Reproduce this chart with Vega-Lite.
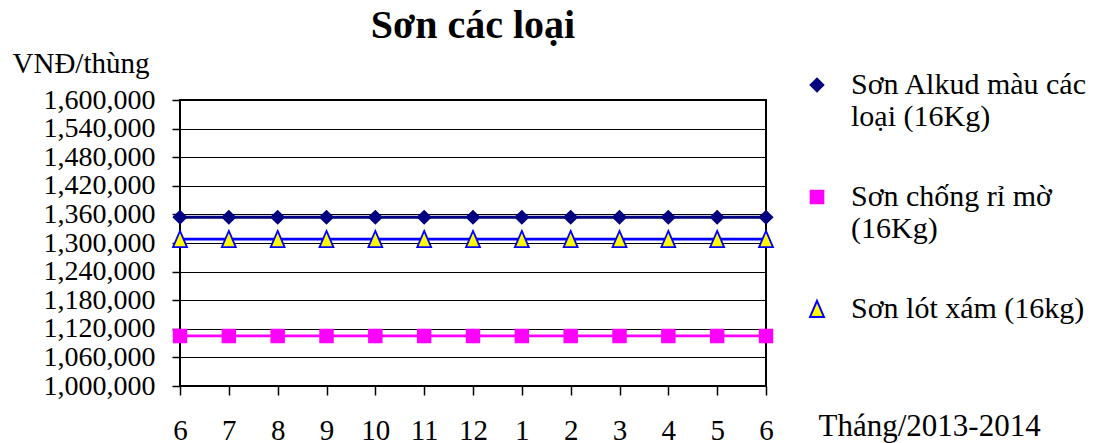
{
  "$schema": "https://vega.github.io/schema/vega-lite/v6.json",
  "width": 586,
  "height": 286,
  "autosize": "none",
  "padding": {"left": 180, "top": 100, "right": 349, "bottom": 57},
  "background": "white",
  "title": {"text": "Sơn các loại", "font": "Liberation Serif", "fontSize": 40, "fontWeight": "bold", "color": "black", "anchor": "middle", "frame": "group", "baseline": "alphabetic", "offset": -29},
  "config": {"view": {"stroke": "black", "strokeWidth": 2}, "font": "Liberation Serif",
    "legend": {"orient": "none", "legendX": 622, "legendY": -30, "padding": 0, "titleFontSize": 0, "labelFont": "Liberation Serif", "labelFontSize": 30, "labelColor": "black", "labelLimit": 600, "labelOffset": 19, "symbolSize": 160, "symbolStrokeWidth": 2, "symbolOpacity": 1, "rowPadding": 50}},
  "data": {"values": [
    {"t": "6/2013", "series": "Sơn Alkud màu các loại (16Kg)", "v": 1354000},
    {"t": "7/2013", "series": "Sơn Alkud màu các loại (16Kg)", "v": 1354000},
    {"t": "8/2013", "series": "Sơn Alkud màu các loại (16Kg)", "v": 1354000},
    {"t": "9/2013", "series": "Sơn Alkud màu các loại (16Kg)", "v": 1354000},
    {"t": "10/2013", "series": "Sơn Alkud màu các loại (16Kg)", "v": 1354000},
    {"t": "11/2013", "series": "Sơn Alkud màu các loại (16Kg)", "v": 1354000},
    {"t": "12/2013", "series": "Sơn Alkud màu các loại (16Kg)", "v": 1354000},
    {"t": "1/2014", "series": "Sơn Alkud màu các loại (16Kg)", "v": 1354000},
    {"t": "2/2014", "series": "Sơn Alkud màu các loại (16Kg)", "v": 1354000},
    {"t": "3/2014", "series": "Sơn Alkud màu các loại (16Kg)", "v": 1354000},
    {"t": "4/2014", "series": "Sơn Alkud màu các loại (16Kg)", "v": 1354000},
    {"t": "5/2014", "series": "Sơn Alkud màu các loại (16Kg)", "v": 1354000},
    {"t": "6/2014", "series": "Sơn Alkud màu các loại (16Kg)", "v": 1354000},
    {"t": "6/2013", "series": "Sơn chống rỉ mờ (16Kg)", "v": 1105000},
    {"t": "7/2013", "series": "Sơn chống rỉ mờ (16Kg)", "v": 1105000},
    {"t": "8/2013", "series": "Sơn chống rỉ mờ (16Kg)", "v": 1105000},
    {"t": "9/2013", "series": "Sơn chống rỉ mờ (16Kg)", "v": 1105000},
    {"t": "10/2013", "series": "Sơn chống rỉ mờ (16Kg)", "v": 1105000},
    {"t": "11/2013", "series": "Sơn chống rỉ mờ (16Kg)", "v": 1105000},
    {"t": "12/2013", "series": "Sơn chống rỉ mờ (16Kg)", "v": 1105000},
    {"t": "1/2014", "series": "Sơn chống rỉ mờ (16Kg)", "v": 1105000},
    {"t": "2/2014", "series": "Sơn chống rỉ mờ (16Kg)", "v": 1105000},
    {"t": "3/2014", "series": "Sơn chống rỉ mờ (16Kg)", "v": 1105000},
    {"t": "4/2014", "series": "Sơn chống rỉ mờ (16Kg)", "v": 1105000},
    {"t": "5/2014", "series": "Sơn chống rỉ mờ (16Kg)", "v": 1105000},
    {"t": "6/2014", "series": "Sơn chống rỉ mờ (16Kg)", "v": 1105000},
    {"t": "6/2013", "series": "Sơn lót xám (16kg)", "v": 1308000},
    {"t": "7/2013", "series": "Sơn lót xám (16kg)", "v": 1308000},
    {"t": "8/2013", "series": "Sơn lót xám (16kg)", "v": 1308000},
    {"t": "9/2013", "series": "Sơn lót xám (16kg)", "v": 1308000},
    {"t": "10/2013", "series": "Sơn lót xám (16kg)", "v": 1308000},
    {"t": "11/2013", "series": "Sơn lót xám (16kg)", "v": 1308000},
    {"t": "12/2013", "series": "Sơn lót xám (16kg)", "v": 1308000},
    {"t": "1/2014", "series": "Sơn lót xám (16kg)", "v": 1308000},
    {"t": "2/2014", "series": "Sơn lót xám (16kg)", "v": 1308000},
    {"t": "3/2014", "series": "Sơn lót xám (16kg)", "v": 1308000},
    {"t": "4/2014", "series": "Sơn lót xám (16kg)", "v": 1308000},
    {"t": "5/2014", "series": "Sơn lót xám (16kg)", "v": 1308000},
    {"t": "6/2014", "series": "Sơn lót xám (16kg)", "v": 1308000}
  ]},
  "encoding": {
    "x": {"field": "t", "type": "ordinal", "sort": null, "scale": {"type": "point", "padding": 0},
      "axis": {"title": "Tháng/2013-2014", "labelExpr": "split(datum.label,'/')[0]", "labelAngle": 0, "labelFont": "Liberation Serif", "labelFontSize": 29, "labelColor": "black", "labelBaseline": "alphabetic", "labelPadding": 44, "tickSize": 9, "tickColor": "black", "tickWidth": 1.5, "domain": false, "grid": false, "titleX": 638, "titleY": 49, "titleAlign": "left", "titleBaseline": "alphabetic", "titleFont": "Liberation Serif", "titleFontSize": 31, "titleFontWeight": "normal", "titleColor": "black"}},
    "y": {"field": "v", "type": "quantitative", "scale": {"domain": [1000000, 1600000], "nice": false, "zero": false},
      "axis": {"title": "VNĐ/thùng", "values": [1000000, 1060000, 1120000, 1180000, 1240000, 1300000, 1360000, 1420000, 1480000, 1540000, 1600000], "format": ",d", "labelFont": "Liberation Serif", "labelFontSize": 28, "labelColor": "black", "labelPadding": 17, "tickSize": 8, "tickColor": "black", "tickWidth": 1.5, "domain": false, "grid": true, "gridColor": "black", "gridWidth": 1, "gridOpacity": 1, "titleAngle": 0, "titleX": -168, "titleY": -28, "titleAlign": "left", "titleBaseline": "alphabetic", "titleFont": "Liberation Serif", "titleFontSize": 29, "titleFontWeight": "normal", "titleColor": "black"}}
  },
  "layer": [
    {"mark": {"type": "line", "strokeWidth": 2.8},
     "encoding": {
       "stroke": {"field": "series", "type": "nominal", "sort": null,
         "scale": {"domain": ["Sơn Alkud màu các loại (16Kg)", "Sơn chống rỉ mờ (16Kg)", "Sơn lót xám (16kg)"], "range": ["#000080", "#FF00FF", "#0000FF"]},
         "legend": {"title": null, "labelFont": "Liberation Serif",
           "labelExpr": "datum.label === 'Sơn Alkud màu các loại (16Kg)' ? ['Sơn Alkud màu các', 'loại (16Kg)'] : datum.label === 'Sơn chống rỉ mờ (16Kg)' ? ['Sơn chống rỉ mờ', '(16Kg)'] : datum.label"}}
     }},
    {"mark": {"type": "point", "size": 160, "strokeWidth": 1.8, "opacity": 1},
     "encoding": {
       "stroke": {"field": "series", "type": "nominal", "sort": null,
         "legend": {"title": null, "labelFont": "Liberation Serif",
           "labelExpr": "datum.label === 'Sơn Alkud màu các loại (16Kg)' ? ['Sơn Alkud màu các', 'loại (16Kg)'] : datum.label === 'Sơn chống rỉ mờ (16Kg)' ? ['Sơn chống rỉ mờ', '(16Kg)'] : datum.label"}},
       "fill": {"field": "series", "type": "nominal", "sort": null,
         "scale": {"domain": ["Sơn Alkud màu các loại (16Kg)", "Sơn chống rỉ mờ (16Kg)", "Sơn lót xám (16kg)"], "range": ["#000080", "#FF00FF", "#FFFF00"]},
         "legend": {"title": null, "labelFont": "Liberation Serif",
           "labelExpr": "datum.label === 'Sơn Alkud màu các loại (16Kg)' ? ['Sơn Alkud màu các', 'loại (16Kg)'] : datum.label === 'Sơn chống rỉ mờ (16Kg)' ? ['Sơn chống rỉ mờ', '(16Kg)'] : datum.label"}},
       "shape": {"field": "series", "type": "nominal", "sort": null,
         "scale": {"domain": ["Sơn Alkud màu các loại (16Kg)", "Sơn chống rỉ mờ (16Kg)", "Sơn lót xám (16kg)"], "range": ["diamond", "square", "M0,-1.3L1.1,1.25L-1.1,1.25Z"]},
         "legend": {"title": null, "labelFont": "Liberation Serif",
           "labelExpr": "datum.label === 'Sơn Alkud màu các loại (16Kg)' ? ['Sơn Alkud màu các', 'loại (16Kg)'] : datum.label === 'Sơn chống rỉ mờ (16Kg)' ? ['Sơn chống rỉ mờ', '(16Kg)'] : datum.label"}}
     }}
  ]
}
